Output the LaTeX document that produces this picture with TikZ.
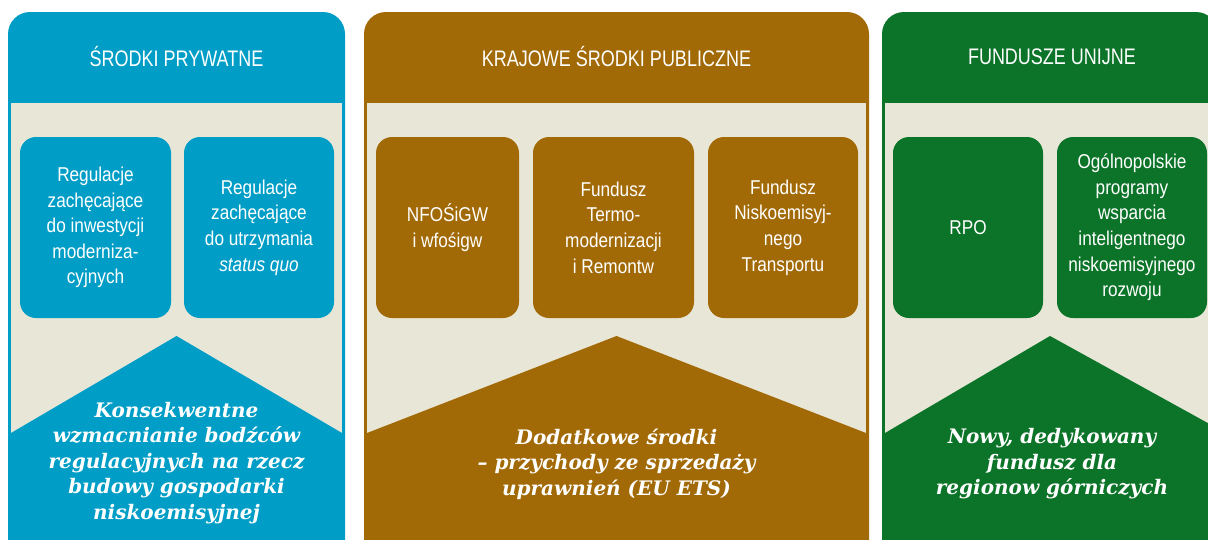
\documentclass[tikz,border=0pt]{standalone}
\usepackage{fontspec}
\usepackage{tikz}
\usetikzlibrary{calc,positioning}
\newfontfamily\condsans[FakeStretch=0.80]{Liberation Sans}
\newfontfamily\boxsans[FakeStretch=0.86]{Liberation Sans}
\newfontfamily\bodyserif{DejaVu Serif}
\definecolor{cblue}{HTML}{009EC6}
\definecolor{cbrown}{HTML}{A26A06}
\definecolor{cgreen}{HTML}{0C7428}
\definecolor{beige}{HTML}{E8E6D7}

\begin{document}
\begin{tikzpicture}[x=1pt, y=-1pt,
  headtxt/.style={text=white, font=\condsans\fontsize{22.5}{26}\selectfont},
  fundbox/.style={rounded corners=16pt, inner sep=0pt, text=white, align=center,
    minimum width=151pt, minimum height=181pt,
    font=\boxsans\fontsize{20}{25.6}\selectfont},
  goaltxt/.style={text=white, align=center,
    font=\bodyserif\bfseries\itshape\fontsize{20}{25.5}\selectfont}]
  \useasboundingbox (0,0) rectangle (1208,539);
  \clip (0,0) rectangle (1208,539);
  % column centres
  \def\xA{176.5}
  \def\xB{616.5}
  \def\xC{1050}
  % private funds (left)
  \fill[cblue, rounded corners=22pt] (8,12) rectangle (345,600);
  \fill[beige] (11,103) rectangle (342,600);
  \node[headtxt] (hprv) at (\xA,57) {ŚRODKI PRYWATNE};
  \node[fundbox, fill=cblue] (reginv) at (95.5,227.5)
    {Regulacje\\zachęcające\\do inwestycji\\moderniza-\\cyjnych};
  \node[fundbox, fill=cblue, minimum width=150pt] (regsq) at (259,227.5)
    {Regulacje\\zachęcające\\do utrzymania\\\textit{status quo}};
  \fill[cblue] (11,433) -- (\xA,336) -- (342,433) -- (342,600) -- (11,600) -- cycle;
  \node[goaltxt] (gprv) at (\xA,463)
    {Konsekwentne\\wzmacnianie bodźców\\regulacyjnych na rzecz\\budowy gospodarki\\niskoemisyjnej};
  % national public funds (middle)
  \fill[cbrown, rounded corners=22pt] (364,12) rectangle (869,600);
  \fill[beige] (367,103) rectangle (866,600);
  \node[headtxt] (hpub) at (\xB,57) {KRAJOWE ŚRODKI PUBLICZNE};
  \node[fundbox, fill=cbrown, minimum width=143pt] (nfos) at (447.5,227.5)
    {NFOŚiGW\\i wfośigw};
  \node[fundbox, fill=cbrown, minimum width=161pt] (ftrm) at (613.5,227.5)
    {Fundusz\\Termo-\\modernizacji\\i Remontw};
  \node[fundbox, fill=cbrown, minimum width=150pt] (fnt) at (783,227.5)
    {Fundusz\\Niskoemisyj-\\nego\\Transportu};
  \fill[cbrown] (367,433) -- (\xB,336) -- (866,433) -- (866,600) -- (367,600) -- cycle;
  \node[goaltxt] (gpub) at (\xB,464)
    {Dodatkowe środki\\– przychody ze sprzedaży\\uprawnień (EU ETS)};
  % EU funds (right)
  \fill[cgreen, rounded corners=22pt] (882,12) rectangle (1218,600);
  \fill[beige] (885,103) rectangle (1215,600);
  \node[headtxt] (heu) at (1052,57) {FUNDUSZE UNIJNE};
  \node[fundbox, fill=cgreen, minimum width=150pt] (rpo) at (968,227.5) {RPO};
  \node[fundbox, fill=cgreen, minimum width=150pt] (opw) at (1132,227.5)
    {Ogólnopolskie\\programy\\wsparcia\\inteligentnego\\niskoemisyjnego\\rozwoju};
  \fill[cgreen] (885,433) -- (\xC,336) -- (1215,427) -- (1215,600) -- (885,600) -- cycle;
  \node[goaltxt] (geu) at (1052,464)
    {Nowy, dedykowany\\fundusz dla\\regionow górniczych};
\end{tikzpicture}
\end{document}
